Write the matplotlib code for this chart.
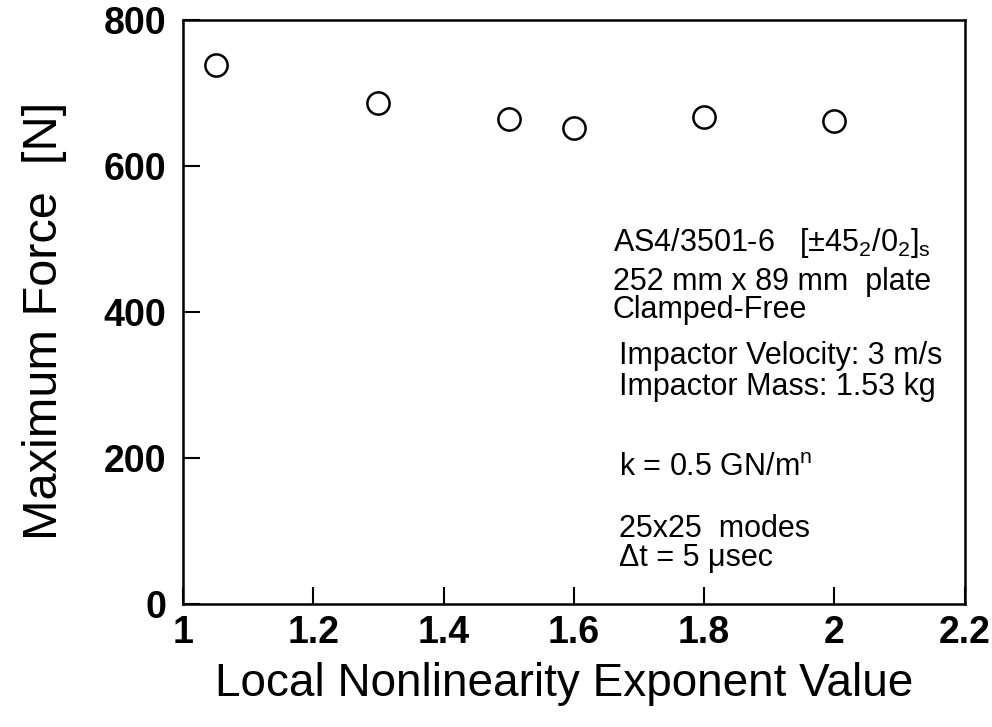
import matplotlib
matplotlib.use('Agg')
import matplotlib.pyplot as plt

# data
exponent = [1.05, 1.3, 1.5, 1.6, 1.8, 2.0]
max_force = [738, 686, 664, 652, 667, 661]

x_ticks = [1, 1.2, 1.4, 1.6, 1.8, 2, 2.2]
x_tick_labels = ['1', '1.2', '1.4', '1.6', '1.8', '2', '2.2']
y_ticks = [0, 200, 400, 600, 800]

plt.rcParams['font.family'] = ['Liberation Sans', 'DejaVu Sans']
plt.rcParams['mathtext.fontset'] = 'custom'
plt.rcParams['mathtext.rm'] = 'Liberation Sans'
plt.rcParams['mathtext.it'] = 'Liberation Sans'

fig = plt.figure(figsize=(9.92, 7.27), dpi=100)
ax = fig.add_axes([0.1845, 0.169, 0.788, 0.8035])

ax.plot(exponent, max_force, 'o', markersize=16, markerfacecolor='white',
        markeredgecolor='black', markeredgewidth=1.8, linestyle='none')

ax.set_xlim(1, 2.2)
ax.set_ylim(0, 800)
ax.set_xticks(x_ticks)
ax.set_xticklabels(x_tick_labels)
ax.set_yticks(y_ticks)
ax.tick_params(direction='in', length=12, width=1.5, labelsize=27)
ax.tick_params(axis='x', pad=8)
ax.tick_params(axis='y', pad=12)
for lab in ax.get_xticklabels() + ax.get_yticklabels():
    lab.set_fontweight('bold')
for s in ax.spines.values():
    s.set_linewidth(1.8)

ax.set_xlabel('Local Nonlinearity Exponent Value', fontsize=33, labelpad=8)
ax.xaxis.label.set_x(0.487)
ax.set_ylabel('Maximum Force  [N]', fontsize=35, labelpad=26)
ax.yaxis.label.set_y(0.485)

# annotation block (multi-line texts are anchored on their last baseline)
fs = 22
ax.text(1.66, 484, r'AS4/3501-6   [$\pm$45$_2$/0$_2$]$_\mathrm{s}$', fontsize=fs)
ax.text(1.66, 392, '252 mm x 89 mm  plate\nClamped-Free', fontsize=fs, linespacing=0.9)
ax.text(1.67, 287, 'Impactor Velocity: 3 m/s\nImpactor Mass: 1.53 kg', fontsize=fs, linespacing=1.02)
ax.text(1.67, 176, r'k = 0.5 GN/m$^\mathrm{n}$', fontsize=fs)
ax.text(1.67, 52, '25x25  modes\n\u0394t = 5 \u03bcsec', fontsize=fs, linespacing=0.95)

fig.savefig('out.png', dpi=100)
